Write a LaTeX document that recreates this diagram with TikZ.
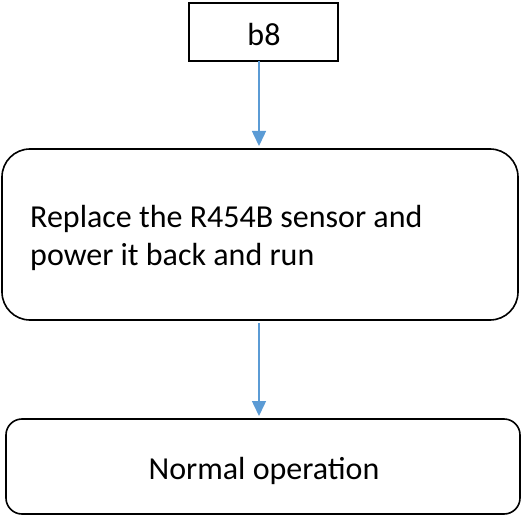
\documentclass[tikz,border=0pt]{standalone}
\usepackage{fontspec}
\setmainfont{Carlito}
\usetikzlibrary{arrows.meta}
\definecolor{flowblue}{HTML}{5B9BD5}
\begin{document}
\begin{tikzpicture}[x=1pt,y=-1pt,
  box/.style={draw=black,line width=1.6pt,fill=white},
  flow/.style={draw=flowblue,line width=1.5pt,-{Triangle[width=14pt,length=15pt]},shorten >=3pt},
  lbl/.style={font=\fontsize{32}{38}\selectfont,inner sep=0pt}]
\useasboundingbox (0,0) rectangle (522,516);
% boxes
\draw[box] (189,3) rectangle (338,61);
\coordinate (topmid) at (259,61);
\draw[box,rounded corners=28pt] (2,149) rectangle (518,320);
\coordinate (midtop) at (259,149);
\coordinate (midbot) at (259,323);
\draw[box,rounded corners=16pt] (6,419) rectangle (520,514);
\coordinate (bottop) at (259,419);
% labels
\node[lbl,anchor=base] (b8) at (264,46) {b8};
\node[lbl,anchor=base west] (l1) at (30,227) {Replace the R454B sensor and};
\node[lbl,anchor=base west] (l2) at (30,265) {power it back and run};
\node[lbl,anchor=base] (normal) at (264,479) {Normal operation};
% connectors
\draw[flow] (topmid) -- (midtop);
\draw[flow] (midbot) -- (bottop);
\end{tikzpicture}
\end{document}
